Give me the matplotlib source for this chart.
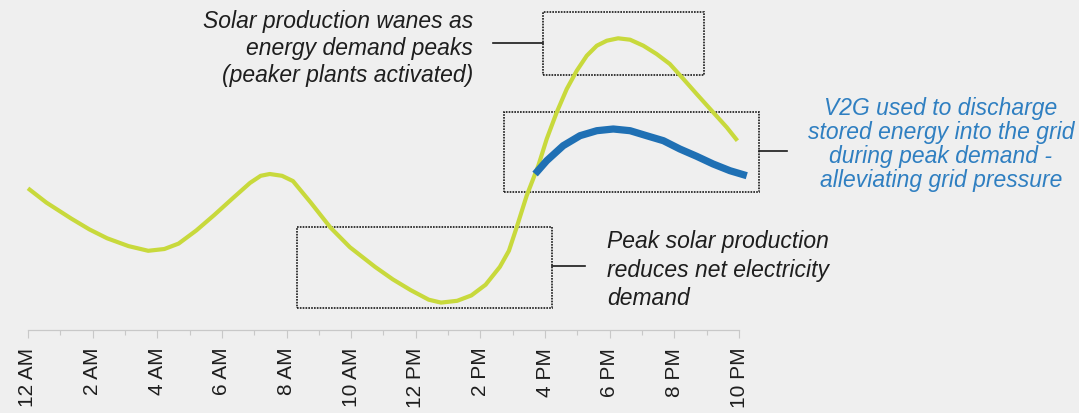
import matplotlib.pyplot as plt
from matplotlib.patches import Rectangle

# Net demand curve through the day (hours after midnight, relative demand)
demand_hours = [0.0, 0.57, 1.34, 1.90, 2.45, 3.11, 3.72, 4.22, 4.66, 5.21,
                5.76, 6.31, 6.87, 7.20, 7.48, 7.86, 8.20, 8.75, 9.36, 9.96,
                10.74, 11.29, 11.84, 12.40, 12.78, 13.28, 13.72, 14.16, 14.60,
                14.88, 15.10, 15.43, 15.79, 16.05, 16.36, 16.67, 16.98, 17.29,
                17.60, 17.91, 18.26, 18.63, 19.04, 19.45, 19.86, 20.28, 20.69,
                21.20, 21.62, 21.95]
demand_values = [141.7, 127.4, 111.4, 100.6, 91.7, 83.9, 79.2, 81.0, 86.4, 99.6,
                 114.9, 131.0, 147.1, 154.2, 156.0, 154.2, 148.9, 127.4, 102.4, 82.8,
                 63.1, 50.6, 39.9, 30.3, 27.4, 29.2, 34.6, 45.3, 63.1,
                 79.2, 100.6, 134.3, 164.3, 191.0, 217.7, 241.0, 259.3, 274.3,
                 284.3, 289.3, 291.7, 290.3, 284.3, 276.0, 266.0, 251.0, 236.0,
                 217.7, 202.7, 189.3]

# Demand with V2G discharge during the evening peak
v2g_hours = [15.69, 16.05, 16.56, 17.08, 17.60, 18.11, 18.63, 19.14, 19.66,
             20.17, 20.69, 21.20, 21.72, 22.24]
v2g_values = [156.0, 169.3, 184.3, 194.3, 199.3, 201.0, 199.3, 194.3, 189.3,
              181.0, 173.7, 166.0, 159.3, 154.3]

tick_hours = list(range(0, 23, 2))
tick_labels = ['12 AM', '2 AM', '4 AM', '6 AM', '8 AM', '10 AM',
               '12 PM', '2 PM', '4 PM', '6 PM', '8 PM', '10 PM']

peak_note = ['Solar production wanes as', 'energy demand peaks',
             '(peaker plants activated)']
v2g_note = ['V2G used to discharge', 'stored energy into the grid',
            'during peak demand -', 'alleviating grid pressure']
solar_note = ['Peak solar production', 'reduces net electricity', 'demand']

bg = '#efefef'
green = '#c8d93c'
blue = '#1f70b4'
note_blue = '#2f7fc1'
text_dark = '#1e1e1e'
axis_grey = '#c8c8c8'

plt.rcParams['font.family'] = ['Liberation Sans', 'DejaVu Sans']

fig = plt.figure(figsize=(10.79, 4.14), dpi=100, facecolor=bg)
ax = fig.add_axes([0, 0, 1, 1], facecolor=bg)
ax.set_xlim(-0.866, 32.52)
ax.set_ylim(-83, 331)

ax.plot(demand_hours, demand_values, color=green, lw=3,
        solid_capstyle='butt', solid_joinstyle='round', zorder=3)
ax.plot(v2g_hours, v2g_values, color=blue, lw=5.2,
        solid_capstyle='butt', solid_joinstyle='round', zorder=4)

# Dotted call-out boxes with their leader lines
boxes = [(15.93, 255, 4.99, 63), (14.73, 138, 7.89, 80), (8.32, 22, 7.89, 81)]
for x0, y0, w, h in boxes:
    ax.add_patch(Rectangle((x0, y0), w, h, fill=False, ec='#1a1a1a',
                           lw=1.2, ls=(0, (1.0, 0.7)), zorder=2))
ax.plot([14.39, 15.93], [287, 287], color='#1a1a1a', lw=1.2)
ax.plot([22.62, 23.48], [179, 179], color='#1a1a1a', lw=1.2)
ax.plot([16.21, 17.23], [64, 64], color='#1a1a1a', lw=1.2)

note_style = dict(fontsize=16.5, style='italic', va='baseline')
for i, line in enumerate(peak_note):
    ax.text(13.77, 303 - 27 * i, line, ha='right', color=text_dark, **note_style)
for i, line in enumerate(v2g_note):
    ax.text(28.25, 216 - 24 * i, line, ha='center', color=note_blue, **note_style)
for i, line in enumerate(solar_note):
    ax.text(17.91, 83 - 28.5 * i, line, ha='left', color=text_dark, **note_style)

# Time axis
for side in ['left', 'right', 'top']:
    ax.spines[side].set_visible(False)
ax.spines['bottom'].set_position(('data', 0))
ax.spines['bottom'].set_bounds(0, 22)
ax.spines['bottom'].set_color(axis_grey)
ax.spines['bottom'].set_linewidth(0.9)
ax.set_yticks([])
ax.set_xticks(tick_hours)
ax.set_xticklabels(tick_labels, rotation=90, fontsize=15, color=text_dark)
ax.set_xticks(range(1, 22, 2), minor=True)
ax.tick_params(axis='x', which='major', length=5.5, width=0.8, color=axis_grey, pad=6.5)
ax.tick_params(axis='x', which='minor', length=3.6, width=0.8, color=axis_grey)

fig.savefig('out.png', dpi=100, facecolor=bg)
